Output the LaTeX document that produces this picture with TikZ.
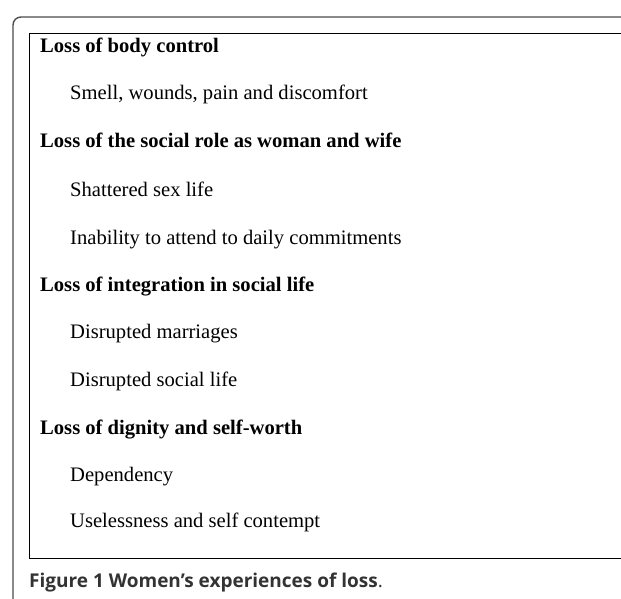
\documentclass[tikz,border=0pt]{standalone}
\usepackage{fontspec}
\setmainfont{Liberation Serif}
\setsansfont{Open Sans}
\usetikzlibrary{positioning}

\begin{document}
\begin{tikzpicture}[x=1pt, y=-1pt, inner sep=0pt,
    head/.style={anchor=base west, font=\fontsize{20.6}{24}\selectfont\bfseries},
    item/.style={anchor=base west, font=\fontsize{20.6}{24}\selectfont},
    frame/.style={draw=black!70, line width=1.4pt},
    listbox/.style={draw=black, line width=1pt}]
        \useasboundingbox (0,0) rectangle (621,599);

        % outer frame with the rounded corner
        \draw[frame] (13,600) -- (13,25) arc[start angle=180, end angle=90, radius=8pt] -- (622,17);
        % box round the list
        \draw[listbox] (622,34) -- (29,34) -- (29,558) -- (622,558);

        % Loss of body control
        \node[head] (body) at (40,53) {Loss of body control};
        \node (smell) [below right=47pt and 30pt of body.base west, item, anchor=base west] {Smell, wounds, pain and discomfort};

        % Loss of the social role
        \node (role) [below left=48pt and 30pt of smell.base west, head, anchor=base west] {Loss of the social role as woman and wife};
        \node (sex) [below right=48pt and 30pt of role.base west, item, anchor=base west] {Shattered sex life};
        \node (daily) [below=48pt of sex.base west, item, anchor=base west] {Inability to attend to daily commitments};

        % Loss of integration
        \node (integ) [below left=47pt and 30pt of daily.base west, head, anchor=base west] {Loss of integration in social life};
        \node (marr) [below right=47pt and 30pt of integ.base west, item, anchor=base west] {Disrupted marriages};
        \node (social) [below=48pt of marr.base west, item, anchor=base west] {Disrupted social life};

        % Loss of dignity
        \node (dign) [below left=48pt and 30pt of social.base west, head, anchor=base west] {Loss of dignity and self-worth};
        \node (dep) [below right=47pt and 30pt of dign.base west, item, anchor=base west] {Dependency};
        \node (useless) [below=46pt of dep.base west, item, anchor=base west] {Uselessness and self contempt};

        % caption
        \node[anchor=base west, text=black!80, font=\fontsize{19}{22}\selectfont\sffamily] (cap) at (29,587)
            {\textbf{Figure 1 Women’s experiences of loss}.};
\end{tikzpicture}
\end{document}
